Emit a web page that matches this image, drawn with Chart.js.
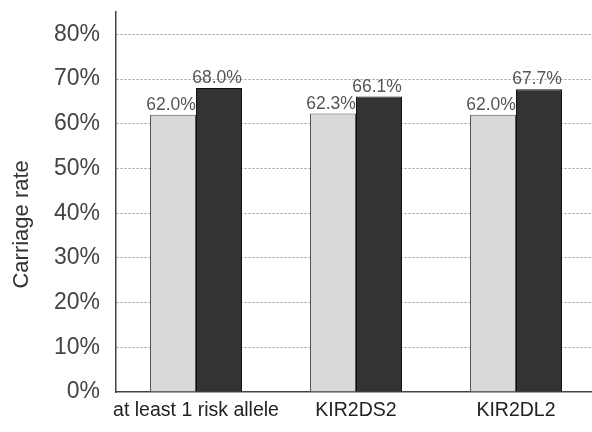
<!DOCTYPE html>
<html>
<head>
<meta charset="utf-8">
<script src="https://cdn.jsdelivr.net/npm/chart.js@4/dist/chart.umd.min.js"></script>
<style>
  html, body { margin: 0; padding: 0; background: #fff; overflow: hidden; }
  #wrap { width: 600px; height: 432px; }
</style>
</head>
<body>
<div id="wrap"><canvas id="c" width="600" height="432"></canvas></div>
<script>
// Carriage rates (%) per marker for the two groups
const categories = ['at least 1 risk allele', 'KIR2DS2', 'KIR2DL2'];
const groupA = [62.0, 62.3, 62.0];
const groupB = [68.0, 66.1, 67.7];
const yTicks = [0, 10, 20, 30, 40, 50, 60, 70, 80];
const yTitle = 'Carriage rate';

const FONT = '"Liberation Sans", Arial, sans-serif';

// Writes each bar's value above it
const valueLabels = {
  id: 'valueLabels',
  afterDatasetsDraw(chart) {
    const ctx = chart.ctx;
    ctx.save();
    ctx.font = '17.5px ' + FONT;
    ctx.fillStyle = '#555';
    ctx.textAlign = 'center';
    ctx.textBaseline = 'bottom';
    chart.data.datasets.forEach((ds, i) => {
      chart.getDatasetMeta(i).data.forEach((bar, j) => {
        ctx.fillText(ds.data[j].toFixed(1) + '%', bar.x - 2, bar.y - 1);
      });
    });
    ctx.restore();
  }
};

// Rotated y-axis caption
const axisCaption = {
  id: 'axisCaption',
  afterDraw(chart) {
    const ctx = chart.ctx;
    const y = chart.scales.y.getPixelForValue(37.5);
    ctx.save();
    ctx.translate(22, y);
    ctx.rotate(-Math.PI / 2);
    ctx.font = '22px ' + FONT;
    ctx.fillStyle = '#333';
    ctx.textAlign = 'center';
    ctx.textBaseline = 'middle';
    ctx.fillText(yTitle, 0, 0);
    ctx.restore();
  }
};

new Chart(document.getElementById('c'), {
  type: 'bar',
  data: {
    labels: categories,
    datasets: [
      { label: 'Group 1', data: groupA, backgroundColor: '#d9d9d9', borderColor: '#555', borderWidth: 1 },
      { label: 'Group 2', data: groupB, backgroundColor: '#333333', borderColor: '#111', borderWidth: 1 }
    ]
  },
  options: {
    responsive: false,
    animation: false,
    layout: { padding: { top: 12, right: 4, left: 0, bottom: 0 } },
    plugins: { legend: { display: false }, tooltip: { enabled: false } },
    datasets: { bar: { barPercentage: 1, categoryPercentage: 0.575 } },
    scales: {
      x: {
        grid: { display: false, drawTicks: false },
        border: { display: true, color: '#444', width: 1.5 },
        ticks: { color: '#222', font: { family: FONT, size: 19.5 }, padding: 7, maxRotation: 0, autoSkip: false },
        afterFit(scale) { scale.height = 40; scale.paddingLeft = 0; scale.paddingRight = 0; }
      },
      y: {
        min: 0,
        max: 85,
        afterBuildTicks(scale) {
          scale.ticks = yTicks.map(v => ({ value: v })).concat([{ value: 85 }]);
        },
        grid: {
          drawTicks: false,
          lineWidth: 1,
          color: ctx => (ctx.tick && (ctx.tick.value === 0 || ctx.tick.value === 85)) ? 'rgba(0,0,0,0)' : '#999'
        },
        border: { display: true, color: '#444', width: 1.5, dash: [2, 2] },
        ticks: {
          color: '#444',
          font: { family: FONT, size: 23 },
          padding: 16,
          callback: v => (yTicks.includes(v) ? v + '%' : '')
        },
        afterFit(scale) { scale.width = 116; scale.paddingTop = 0; scale.paddingBottom = 0; }
      }
    }
  },
  plugins: [valueLabels, axisCaption]
});
</script>
</body>
</html>
